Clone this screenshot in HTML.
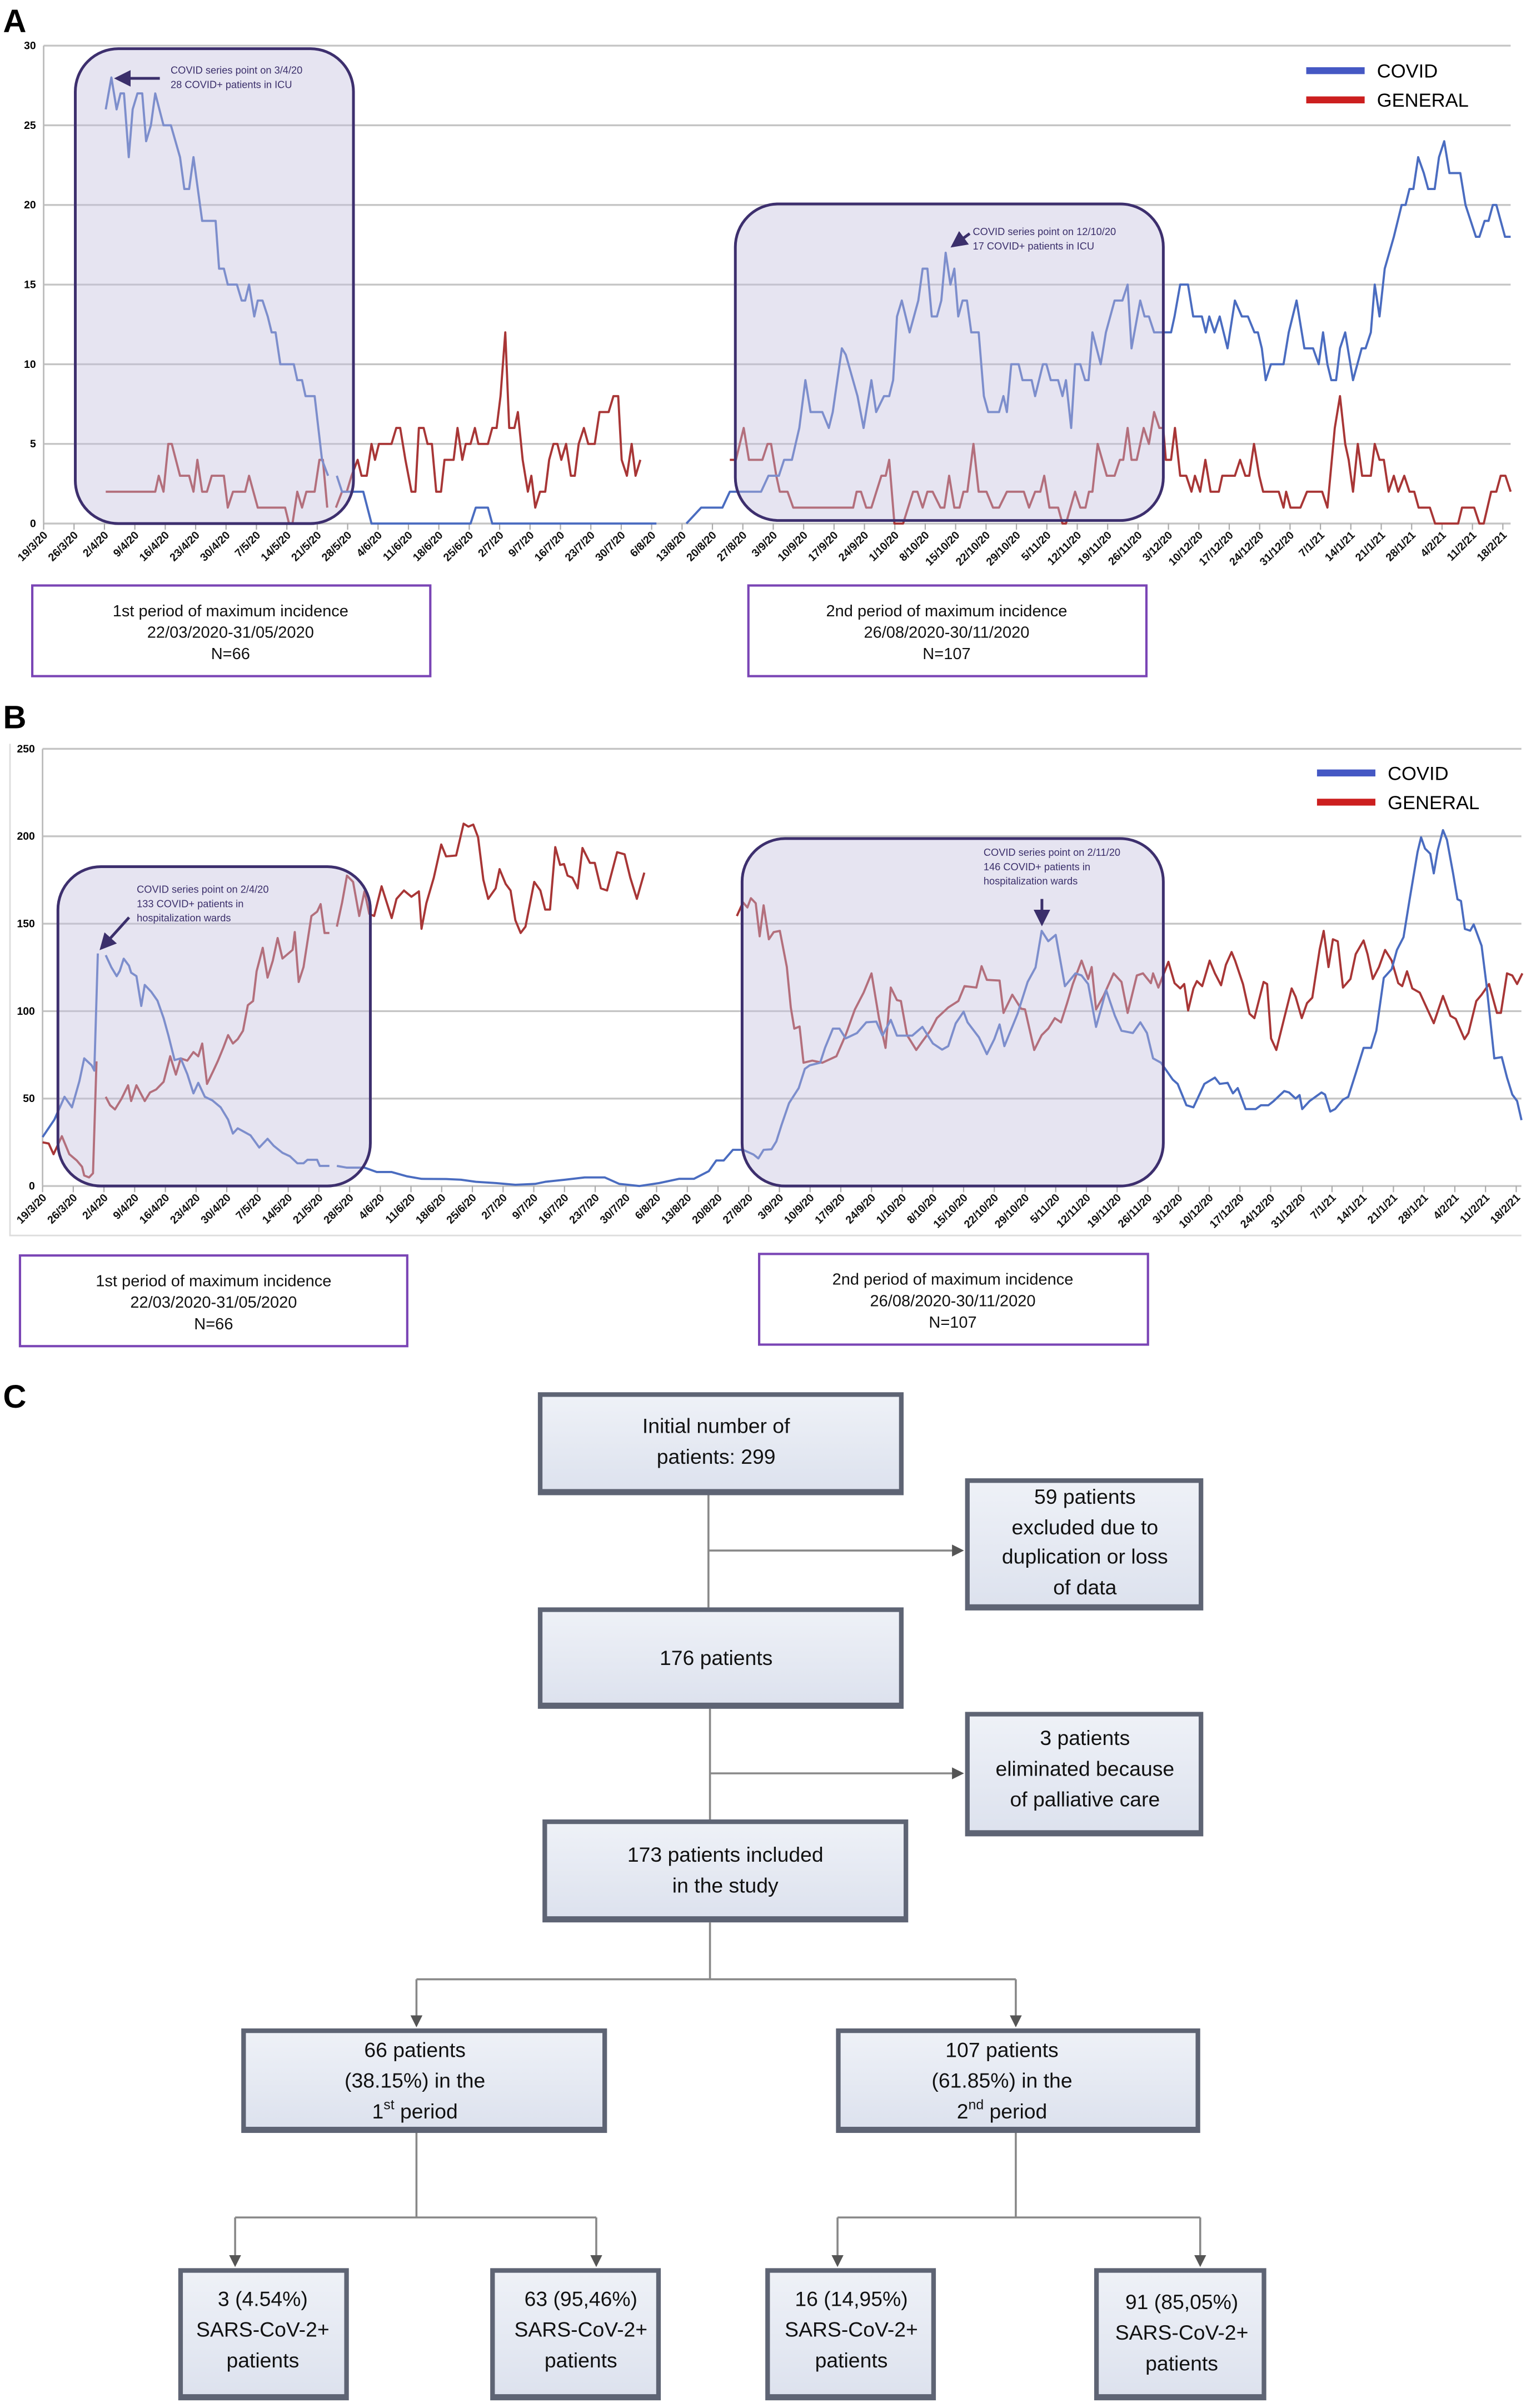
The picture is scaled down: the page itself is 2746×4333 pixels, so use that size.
<!DOCTYPE html>
<html><head><meta charset="utf-8"><title>COVID ICU and ward occupancy with patient flowchart</title>
<style>
html,body{margin:0;padding:0;background:#fff;}
svg{display:block;}
text{font-family:"Liberation Sans",sans-serif;}
.fc{font-family:"Liberation Sans Narrow","Liberation Sans",sans-serif;font-size:13.5px;fill:#111;text-anchor:middle;dominant-baseline:middle;}
.ann{font-family:"Liberation Sans Narrow","Liberation Sans",sans-serif;font-size:6.6px;fill:#3b2f6b;}
.per{font-family:"Liberation Sans",sans-serif;font-size:10.5px;fill:#111;text-anchor:middle;}
.tick{font-size:7.2px;fill:#111;}
</style></head>
<body>
<svg id="fig" xmlns="http://www.w3.org/2000/svg" width="2746" height="4333" viewBox="0 0 993 1567" preserveAspectRatio="none">
<defs>
<linearGradient id="boxg" x1="0" y1="0" x2="0" y2="1"><stop offset="0" stop-color="#eef1f7"/><stop offset="1" stop-color="#dde2ee"/></linearGradient>
<marker id="arr" markerWidth="6" markerHeight="6" refX="5" refY="3" orient="auto"><path d="M0,0 L6,3 L0,6 z" fill="#555"/></marker>
<marker id="parr" markerWidth="6" markerHeight="6" refX="5" refY="3" orient="auto"><path d="M0,0 L6,3 L0,6 z" fill="#3b2f6b"/></marker>
</defs>
<text x="2" y="21" font-size="21" font-weight="bold">A</text>
<text x="2" y="474" font-size="21" font-weight="bold">B</text>
<text x="2" y="916" font-size="21" font-weight="bold">C</text>
<g id="chartA"></g>
<g id="chartB"></g>

<g>
<rect x="21" y="381" width="259" height="59" fill="#fff" stroke="#7a45b5" stroke-width="1.5"/>
<text class="per" x="150" y="401">1st period of maximum incidence</text>
<text class="per" x="150" y="415">22/03/2020-31/05/2020</text>
<text class="per" x="150" y="429">N=66</text></g>
<g>
<rect x="487" y="381" width="259" height="59" fill="#fff" stroke="#7a45b5" stroke-width="1.5"/>
<text class="per" x="616" y="401">2nd period of maximum incidence</text>
<text class="per" x="616" y="415">26/08/2020-30/11/2020</text>
<text class="per" x="616" y="429">N=107</text></g>
<g>
<rect x="13" y="817" width="252" height="59" fill="#fff" stroke="#7a45b5" stroke-width="1.5"/>
<text class="per" x="139" y="837">1st period of maximum incidence</text>
<text class="per" x="139" y="851">22/03/2020-31/05/2020</text>
<text class="per" x="139" y="865">N=66</text></g>
<g>
<rect x="494" y="816" width="253" height="59" fill="#fff" stroke="#7a45b5" stroke-width="1.5"/>
<text class="per" x="620" y="836">2nd period of maximum incidence</text>
<text class="per" x="620" y="850">26/08/2020-30/11/2020</text>
<text class="per" x="620" y="864">N=107</text></g>

<g stroke="#888" stroke-width="1.3" fill="none">
<path d="M461,973 V1046 M461,1009 H626" marker-end="url(#arr)"/>
<path d="M462,1112 V1184 M462,1154 H626" marker-end="url(#arr)"/>
<path d="M462,1251 V1288 M271,1288 H661"/>
<path d="M271,1288 V1318" marker-end="url(#arr)"/>
<path d="M661,1288 V1318" marker-end="url(#arr)"/>
<path d="M271,1388 V1443 M153,1443 H388"/>
<path d="M153,1443 V1474" marker-end="url(#arr)"/>
<path d="M388,1443 V1474" marker-end="url(#arr)"/>
<path d="M661,1388 V1443 M545,1443 H781"/>
<path d="M545,1443 V1474" marker-end="url(#arr)"/>
<path d="M781,1443 V1474" marker-end="url(#arr)"/>
</g>
<g id="fcboxes"></g>
</svg>
<script>
const tickLabels=["19/3/20","26/3/20","2/4/20","9/4/20","16/4/20","23/4/20","30/4/20","7/5/20","14/5/20","21/5/20","28/5/20","4/6/20","11/6/20","18/6/20","25/6/20","2/7/20","9/7/20","16/7/20","23/7/20","30/7/20","6/8/20","13/8/20","20/8/20","27/8/20","3/9/20","10/9/20","17/9/20","24/9/20","1/10/20","8/10/20","15/10/20","22/10/20","29/10/20","5/11/20","12/11/20","19/11/20","26/11/20","3/12/20","10/12/20","17/12/20","24/12/20","31/12/20","7/1/21","14/1/21","21/1/21","28/1/21","4/2/21","11/2/21","18/2/21"];
const yTicksA=[0,5,10,15,20,25,30];
const yTicksB=[0,50,100,150,200,250];
const icuCovidDays=[14.3,15.6,16.8,17.7,18.5,19.6,20.5,21.6,22.7,23.6,24.7,25.7,27.6,29.3,31.4,32.4,33.5,34.5,36.5,39.6,40.4,41.5,42.4,44.5,45.6,46.4,47.3,48.5,49.3,50.4,51.6,52.5,53.4,54.5,57.6,58.4,59.5,60.3,62.4,64.1,65.5,66.5,67.5,68.7,73.6,75.5,98.3,99.5,102.3,103.3,141.1,143,144,148,151.4,156.3,158,165.2,166.9,169.3,170.5,172.3,174,175.4,176.6,179.3,180.8,181.7,183.8,184.7,187.4,188.8,190.6,191.7,193.5,194.7,195.6,196.5,197.6,199.4,201.4,202.4,203.5,204.5,205.7,206.7,207.7,208.8,209.7,210.6,211.6,212.6,213.6,215.3,216.5,217.5,220,221,221.8,222.8,224.5,225.4,227.5,228.3,230.1,230.9,231.9,233.6,234.6,235.4,236.6,237.5,238.7,239.8,240.6,241.5,243.4,244.6,246.6,248.4,249.6,250.5,252.5,253.5,254.5,255.7,259.6,260.4,261.7,263.5,264.7,266.7,267.6,268.4,269.6,270.8,272.6,274.3,275.9,277.3,278.8,279.6,280.5,281.4,282.6,285.5,286.7,288.5,290.3,292.3,293.6,294.6,295.6,296.5,297.6,298.5,299.7,301.5,303.5,304.4,305.6,306.5,307.6,308.8,310.9,312.7,313.6,314.5,315.4,316.5,317.8,318.8,320.3,321.3,322.5,323.7,326.2,327.4,328.6,329.8,330.6,331.8,332.7,333.7,334.5,336.5,337.8];
const icuCovidVals=[26,28,26,27,27,23,26,27,27,24,25,27,25,25,23,21,21,23,19,19,16,16,15,15,14,14,15,13,14,14,13,12,12,10,10,9,9,8,8,4,3,null,3,2,2,0,0,1,1,0,0,null,null,0,1,1,2,2,3,3,4,4,6,9,7,7,6,7,11,10.6,8,6,9,7,8,8,9,13,14,12,14,16,16,13,13,14,17,15,16,13,14,14,12,12,8,7,7,8,7,10,10,9,9,8,10,10,9,9,8,9,6,10,10,9,9,12,10,12,14,14,15,11,14,13,13,12,12,13,15,15,13,13,12,13,12,13,11,14,13,13,12,12,11,9,10,10,12,14,11,11,10,12,10,9,9,11,12,9,11,11,12,15,13,16,18,20,20,21,21,23,22,21,21,23,24,22,22,20,19,18,18,19,19,20,20,18,18];
const icuGenDays=[14.3,25.7,26.5,27.6,28.7,29.5,31.4,33.5,34.5,35.4,36.5,37.6,38.7,41.5,42.4,43.6,46.4,47.3,49.3,55.6,56.5,57.3,58.4,59.5,60.5,62.4,63.5,64.3,65.3,66.3,67.3,68.7,69.8,70.9,72.3,73.2,74.4,75.5,76.3,77.2,80.1,81.2,82.1,83.3,84.7,85.6,86.4,87.5,88.4,89.4,90.4,91.5,92.3,94.4,95.3,96.4,97.2,98.3,99.3,100.1,102.3,103.3,104.3,105.2,106.3,107.2,108.4,109.2,110.3,111.5,112.3,113.2,114.3,115.5,116.4,117.4,118.3,119.2,120.3,121.4,122.3,123.2,124.4,125.4,126.9,128,130.1,131.2,132.3,133.1,134.3,135.4,136.3,137.4,145,158,159.4,161.2,162.4,165.5,166.7,167.5,168.7,169.5,171.3,172.6,186.4,187.2,188.2,189.4,190.6,192.9,193.9,194.7,195.9,197.9,200.2,201.2,202.4,203.5,204.7,206.5,207.4,208.5,209.7,210.9,211.8,212.7,214.1,215.3,217.1,218.6,220,221.8,225.7,226.9,228.3,229.5,230.4,231.6,233.6,234.6,235.4,237.5,238.7,239.9,240.7,241.5,242.7,244.8,246.6,247.8,248.6,249.6,250.5,251.7,253.3,254.5,255.7,256.9,257.8,258.4,259.6,260.5,261.7,263.1,264.3,265.1,266.3,267.5,268.7,270.6,271.4,274.3,275.5,276.7,277.6,278.7,279.9,280.8,284.4,285.5,286.1,287.1,289.4,290.9,294.4,295.6,297.3,298.5,299.7,300.5,301.5,302.6,303.6,305.6,306.5,307.6,308.6,309.7,310.9,311.9,313.3,314.5,315.6,316.6,319.2,320.4,325.7,326.6,329.4,330.6,331.6,333.3,334.5,335.5,336.6,337.8];
const icuGenVals=[2,2,3,2,5,5,3,3,2,4,2,2,3,3,1,2,2,3,1,1,0,0,2,1,2,2,4,4,1,null,1,2,2,3,4,3,3,5,4,5,5,6,6,4,2,2,6,6,5,5,2,2,4,4,6,4,5,5,6,5,5,6,6,8,12,6,6,7,4,2,3,1,2,2,4,5,5,4,5,3,3,5,6,5,5,7,7,8,8,4,3,5,3,4,null,4,4,6,4,4,5,5,3,2,2,1,1,2,2,1,1,3,3,4,0,0,2,2,1,2,2,1,1,3,1,1,2,2,5,2,2,1,1,2,2,1,2,2,3,1,1,0,0,2,1,1,2,2,5,3,3,4,4,6,4,4,6,5,7,6,6,4,4,6,3,3,2,3,2,4,2,2,3,3,4,3,3,5,3,2,2,1,2,1,1,2,2,1,6,8,5,4,2,5,3,3,5,4,4,2,3,2,3,2,2,1,1,0,0,1,1,0,0,2,2,3,3,2];
const wardCovidDays=[0,2.7,5,6.7,8.4,9.5,11.2,11.8,12.6,13.5,14.4,15.7,16.9,17.6,18.5,19.7,20.2,21.4,22.5,23.3,24.8,26.2,27.6,28.7,30.1,31.5,33,34.4,35.5,37,38.7,40.6,42.3,43.4,44.5,47.4,49.4,51.3,52.7,54.7,56.4,58.1,59.5,60.4,62.6,63.2,65.4,66.2,67.1,69.4,71.1,73.4,76.2,79.6,83,86.4,92,95.4,98.8,103.3,107.8,112.3,114.6,119.1,123.6,128.2,131.5,136.1,140.6,145.1,148.5,151.9,153.6,155.3,157.4,159.7,162.1,163.2,164.4,166.2,167.3,168.5,170.2,172.4,173.8,174.9,177.3,178.4,180.2,181.7,183.1,185.7,187.8,190.1,191.5,193.4,194.8,198.3,200.6,203,205.1,206.5,208.2,210,210.9,213.5,215.3,217,218.2,219.3,222.3,224.6,226.4,227.8,229.3,231,233.1,235.5,236.9,238.4,240.2,242.5,244.5,246,248.6,250.3,251.8,253.2,255,257.7,258.8,260.8,262.4,264.9,267.3,268.4,270.2,271.4,272.5,274.3,276.6,277.8,279.5,280.7,283.1,284.2,285.7,286.6,287.2,288.9,291.6,292.4,293.6,294.7,296.5,297.7,299.4,301.2,302.9,304.1,305.8,307.6,308.8,310.3,311.7,313.5,314.3,315.2,316.4,317.2,318.1,319.3,320.2,321.6,322.6,323.4,324.3,325.5,326.3,328.1,329.2,331,332.7,333.9,335.1,336.2,337.2];
const wardCovidVals=[28,38,51,45,60,73,69,66,133,null,132,125,120,123,130,126,122,120,103,115,111,106,96,86,72,73,64,53,59,51,49,45,38,30,33,29,22,27,23,19,17,13,13,15,15,11.5,11.5,null,11.5,10.5,10.5,10.5,8,8,5.6,4.1,4,3.6,2.4,1.7,0.7,1.2,2.4,3.6,4.9,4.9,1.2,0,1.7,4.1,4.1,8.5,14.6,14.6,20.7,20.7,18,15.8,20.7,21,25.5,35,47.4,56,67,69,70.5,79,90,90,84.4,87.5,93.6,94,86,95,86,86,91,81.5,78,80,93,99.7,93.6,85,75.4,84,92.4,80,98.5,116.7,125,145.9,140,143.6,114.3,121.6,120.4,115.5,91,112,97.3,88.8,87.5,93.6,87.5,73,70.5,60.8,58.4,46.2,45,58.4,62,58.4,59,53,56,44,44,46.2,46.2,48.6,54.3,53.5,50,52,44,48.6,53.5,52.3,42.6,44,49.4,51,64.4,79,79,88.8,119,124,135,142.3,164,191,199.4,193,190,178.8,192,203.5,198,178.8,164,163,147,146,149.6,137.4,115.5,73,73.7,62,52.3,48.6,37.7];
const wardGenDays=[0,1.4,2.5,4.4,6.1,7.8,9,9.5,10.6,11.5,12.3,13.3,14.4,15.4,16.5,18,19.5,20.2,21.4,23.3,24.5,25.9,27.6,29.1,30.4,31.5,33,34.4,35.5,36.4,37.5,38.9,40,41.2,42.3,43.4,44.5,45.7,46.8,48,48.8,50.2,51.3,52.5,53.6,54.7,57,57.5,58.4,59.5,61.3,62.6,63.4,64.3,65.4,66.2,67.1,68.3,69.4,70.8,72.2,73.4,74.5,75.6,77.3,79.6,80.7,82.4,84.1,85.8,86.4,87.5,89.2,90.9,92,94.3,96,97.1,98.2,99.3,100.5,101.6,103.3,104.2,105.6,106.7,107.8,109,110.1,112.1,113.5,114.6,115.7,116.9,118,118.9,119.7,120.8,122,123.1,124.8,125.9,127.3,128.7,131,132.7,134,135.5,137.2,145,158.3,159.7,160.7,161.5,162.6,163.5,164.4,165.6,166.7,168.1,169.7,170.6,171.4,172.6,173.5,175.5,177.8,181,183.1,185.2,187.2,189,190.7,192.2,193.4,194.8,195.7,197.1,199.2,200.6,202.4,203.9,206.5,208.8,210.2,212.9,214.1,215.3,218.2,219.1,221.1,223.1,224,226.1,227.8,229.3,230.8,232.2,233.6,234.9,236.9,238.4,239.2,240.2,241.9,244.2,246,247.4,249.5,250.9,252.7,253.2,254.4,256.7,258.1,259.4,260.3,261.2,262.4,263.2,264.4,266.1,267.3,268.7,269.8,271.1,271.9,273.7,275.2,276.3,278.4,279.2,280.1,281.3,283.1,284.8,285.7,287.1,288.3,289.5,291.2,292.1,293.2,294.2,295.3,296.5,298.2,299.4,301.2,302.1,303.3,304.7,306.1,307.6,309.1,310,311.1,312.3,314,317.2,319.3,321,322.2,324.2,325.1,326.9,328.1,329.8,331.6,332.5,333.9,335.1,336.2,337.4];
const wardGenVals=[25,24.3,18.2,28.5,18.2,14.6,11,6,4.9,7.3,71.3,null,51,46.2,43.8,49.9,57.6,48.6,57.6,48.6,53.5,55.2,59.6,74.2,63.7,73,71.7,76.6,74.2,81.5,58.4,65.7,71.7,79,86.3,81.5,84,88.8,103.4,105.8,122.8,136.2,119.2,128.9,141.8,130.1,135,145.2,116.7,125.2,154.4,156.9,161.2,144.7,144.7,null,148.3,162.2,177.5,173.9,154.4,168.5,155.6,154.4,171.4,153.2,164.2,169,165.4,168.5,147.1,161.7,176.3,195.3,188.5,189,207.2,205.5,206.7,199.4,175.1,164.2,170.2,181.2,172.7,169,152,144.7,148.3,173.9,169,158.1,158.1,193.8,183.6,184.1,177.5,176.3,170.2,193.3,184.8,184.8,170.2,169,190.9,189.7,176.3,164.2,179.2,null,154.4,162.2,159.3,164.6,161.7,142.8,160.5,141.1,145.2,145.9,125.2,102.1,90,91.2,70.5,71.7,70.5,74.2,86.3,100.9,110.6,121.6,96,79,113.5,106.3,105.8,86.3,77.8,82.7,88.8,96,102.1,105.8,114.3,113.5,125.7,117.9,117.5,99,109.4,101.4,101,77.8,86.3,90,96,93.6,104.6,115.5,128.9,118.4,125.2,101,108.7,121.6,116.7,99,120.4,121.6,116,121.6,113.5,128.2,116,113,115.5,100.4,113,117.2,114.3,128.9,121.6,114.8,126.5,133.8,128.9,115.5,98.5,96,116.7,115.5,84.4,77.8,96,113,108.2,96,104.6,107.7,135.5,145.9,125.2,141.1,139.9,113.5,118.4,132.6,140.4,132.6,118.4,125.2,135,128.9,116,114.3,122.8,113,110.6,93.1,108.7,97.3,95.6,84,87.5,105.8,109.4,115.5,99,99,121.6,120.4,115.5,121.6];

const NS="http://www.w3.org/2000/svg";
function mk(tag,attrs,parent){const e=document.createElementNS(NS,tag);for(const k in attrs)e.setAttribute(k,attrs[k]);parent.appendChild(e);return e;}
function pathFrom(days,vals,xf,yf){let d="",pen=false;for(let i=0;i<days.length;i++){const v=vals[i];if(v===null||v===undefined){pen=false;continue;}d+=(pen?"L":"M")+xf(days[i]).toFixed(2)+","+yf(v).toFixed(2);pen=true;}return d;}

function drawChart(g,cfg){
  const xf=d=>cfg.x0+d*cfg.pxDay;
  const yf=v=>cfg.yBot-(v/cfg.yMax)*(cfg.yBot-cfg.yTop);
  cfg.yTicks.forEach(t=>{
    const ln=mk("line",{x1:cfg.x0,x2:cfg.xEnd,y1:yf(t),y2:yf(t),stroke:"#c4c4c4","stroke-width":1.2},g);
    
    
    const tx=mk("text",{x:cfg.x0-5,y:yf(t)+2.3,"font-size":7,"text-anchor":"end","font-weight":"bold"},g);
    
    
    tx.textContent=t;
  });
  const ax=mk("line",{x1:cfg.x0,x2:cfg.x0,y1:cfg.yTop,y2:cfg.yBot,stroke:"#bbb","stroke-width":1},g);
  
  
  tickLabels.forEach((lab,i)=>{
    const x=xf(i*7);
    const tk=mk("line",{x1:x,x2:x,y1:cfg.yBot,y2:cfg.yBot+4,stroke:"#aaa","stroke-width":0.8},g);
    
    
    const tx=mk("text",{x:x+3,y:cfg.yBot+8,"text-anchor":"end",transform:"rotate(-45 "+(x+3)+" "+(cfg.yBot+8)+")",class:"tick","font-weight":"bold"},g);
    
    
    tx.textContent=lab;
  });
  const pg=mk("path",{d:pathFrom(cfg.genD,cfg.genV,xf,yf),fill:"none",stroke:"#a83636","stroke-width":1.4,"stroke-linejoin":"round"},g);
  
  
  const pc=mk("path",{d:pathFrom(cfg.covD,cfg.covV,xf,yf),fill:"none",stroke:"#4a6cc0","stroke-width":1.4,"stroke-linejoin":"round"},g);
  
  
  cfg.boxes.forEach((b,i)=>{
    const r=mk("rect",{x:b[0],y:b[1],width:b[2]-b[0],height:b[3]-b[1],rx:28,ry:28,fill:"rgba(196,190,222,0.42)",stroke:"#3d2f6e","stroke-width":1.8},g);
    
    
  });
  [["COVID","#4558c4"],["GENERAL","#cc1f1f"]].forEach((l,i)=>{
    const y=cfg.legY+i*19;
    const ln=mk("line",{x1:cfg.legX,x2:cfg.legX+38,y1:y,y2:y,stroke:l[1],"stroke-width":4.5},g);
    
    
    const tx=mk("text",{x:cfg.legX+46,y:y+4.5,"font-size":12.5},g);
    
    
    tx.textContent=l[0];
  });
  cfg.anns.forEach((a,i)=>{
    a.lines.forEach((s,j)=>{
      const tx=mk("text",{x:a.x,y:a.y+j*9.3,class:"ann"},g);
      
      
      tx.textContent=s;
    });
    const ar=mk("line",{x1:a.ar[0],y1:a.ar[1],x2:a.ar[2],y2:a.ar[3],stroke:"#3b2f6b","stroke-width":1.8,"marker-end":"url(#parr)"},g);
    
    
  });
}

drawChart(document.getElementById('chartA'),{x0:28.4,xEnd:983,pxDay:2.826,yTop:29.7,yBot:340.7,yMax:30,yTicks:yTicksA,
  covD:icuCovidDays,covV:icuCovidVals,genD:icuGenDays,genV:icuGenVals,
  boxes:[[49,31.7,230,340.7],[478.5,132.7,757,338.7]],legX:850,legY:46,
  anns:[{x:111,y:48,lines:["COVID series point on 3/4/20","28 COVID+ patients in ICU"],ar:[104,51,76,51]},
        {x:633,y:153,lines:["COVID series point on 12/10/20","17 COVID+ patients in ICU"],ar:[631,152,620,160]}]});
drawChart(document.getElementById('chartB'),{x0:27.7,xEnd:990,pxDay:2.854,yTop:487.3,yBot:771.8,yMax:250,yTicks:yTicksB,
  covD:wardCovidDays,covV:wardCovidVals,genD:wardGenDays,genV:wardGenVals,
  boxes:[[37.7,564,241,771.8],[482.9,545.7,757,771.8]],legX:857,legY:503,
  anns:[{x:89,y:581,lines:["COVID series point on 2/4/20","133 COVID+ patients in","hospitalization wards"],ar:[84,597,66,617]},
        {x:640,y:557,lines:["COVID series point on 2/11/20","146 COVID+ patients in","hospitalization wards"],ar:[678,585,678,601]}]});

(function(){
const f=mk("path",{d:"M6.5,484 V804 H990",fill:"none",stroke:"#ddd","stroke-width":1},document.getElementById('chartB'));


})();

const fcBoxes=[
 {n:"box-initial",x:350,y:906,w:238,h:67,cx:466,ly:[929,949],t:["Initial number of","patients: 299"]},
 {n:"box-excluded",x:628,y:962,w:155,h:86,cx:706,ly:[975,995,1014,1034],t:["59 patients","excluded due to","duplication or loss","of data"]},
 {n:"box-176",x:350,y:1046,w:238,h:66,cx:466,ly:[1080],t:["176 patients"]},
 {n:"box-eliminated",x:628,y:1114,w:155,h:81,cx:706,ly:[1132,1152,1172],t:["3 patients","eliminated because","of palliative care"]},
 {n:"box-included",x:353,y:1184,w:238,h:67,cx:472,ly:[1208,1228],t:["173 patients included","in the study"]},
 {n:"box-first-period",x:157,y:1320,w:238,h:68,cx:270,ly:[1335,1355,1375],t:["66 patients","(38.15%) in the","1|st| period"]},
 {n:"box-second-period",x:544,y:1320,w:237,h:68,cx:652,ly:[1335,1355,1375],t:["107 patients","(61.85%) in the","2|nd| period"]},
 {n:"box-first-neg",x:116,y:1476,w:111,h:86,cx:171,ly:[1497,1517,1537],t:["3 (4.54%)","SARS-CoV-2+","patients"]},
 {n:"box-first-pos",x:319,y:1476,w:111,h:86,cx:378,ly:[1497,1517,1537],t:["63 (95,46%)","SARS-CoV-2+","patients"]},
 {n:"box-second-neg",x:498,y:1476,w:111,h:86,cx:554,ly:[1497,1517,1537],t:["16 (14,95%)","SARS-CoV-2+","patients"]},
 {n:"box-second-pos",x:712,y:1476,w:112,h:86,cx:769,ly:[1499,1519,1539],t:["91 (85,05%)","SARS-CoV-2+","patients"]}];
const fg=document.getElementById('fcboxes');
fcBoxes.forEach(b=>{
  const g=mk("g",{},fg);
  
  
  mk("rect",{x:b.x,y:b.y,width:b.w,height:b.h,fill:"#5e6474"},g);
  mk("rect",{x:b.x+3,y:b.y+3,width:b.w-6,height:b.h-7,fill:"url(#boxg)"},g);
  b.t.forEach((s,i)=>{
    const tx=mk("text",{x:b.cx,y:b.ly[i],class:"fc"},g);
    
    
    if(s.indexOf("|")>=0){const p=s.split("|");
      tx.appendChild(document.createTextNode(p[0]));
      const sp=mk("tspan",{dy:-5,"font-size":9},tx);sp.textContent=p[1];
      const sp2=mk("tspan",{dy:5},tx);sp2.textContent=p[2];
    } else tx.textContent=s;
  });
});
</script>
</body></html>
